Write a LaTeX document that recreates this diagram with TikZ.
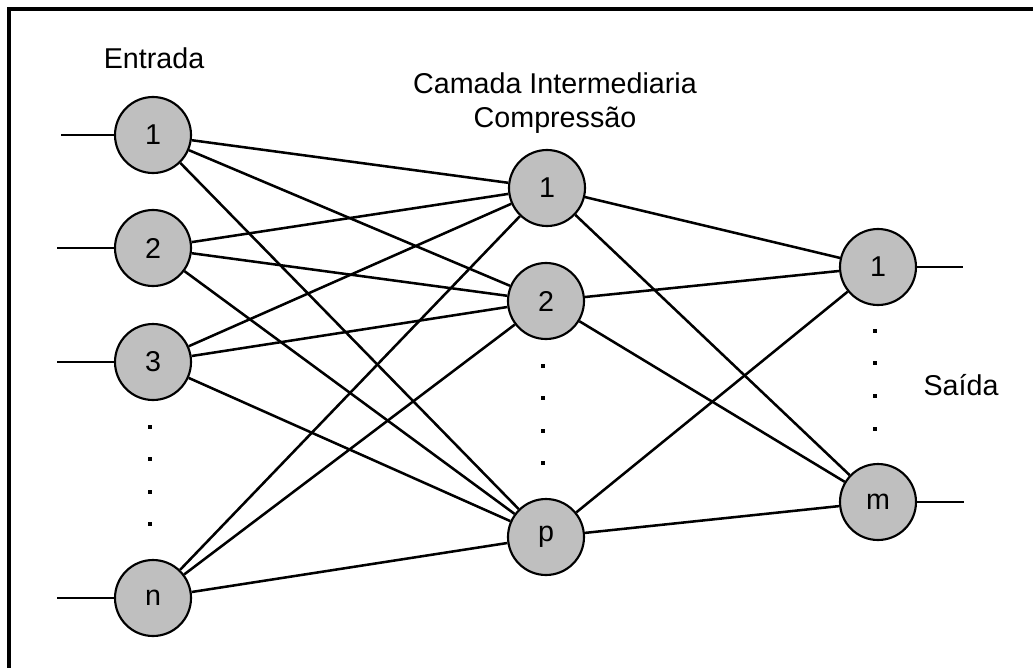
\documentclass[tikz,border=0pt]{standalone}
\usepackage{fontspec}
\setmainfont{Liberation Sans}
\usepackage{tikz}
\usetikzlibrary{positioning}

\tikzset{
  neuron/.style={circle, draw, line width=1.6pt, fill=black!25, minimum size=57pt, inner sep=0pt},
  link/.style={line width=1.9pt},
  label/.style={font=\fontsize{21.5}{26}\selectfont, align=center}
}

\begin{document}
\begin{tikzpicture}[x=0.75pt, y=-0.75pt, font=\fontsize{21.5}{26}\selectfont]
\useasboundingbox (0,0) rectangle (1033,668);

% Frame
\draw[line width=2.4pt] (9,668) -- (9,9) -- (1033,9);

% Input layer
\node[neuron] (e1) at (153,135) {1};
\node[neuron] (e2) at (153,248) {2};
\node[neuron] (e3) at (153,362) {3};
\node[neuron] (en) at (153,598) {n};

% Hidden layer
\node[neuron] (c1) at (547,188) {1};
\node[neuron] (c2) at (546,301) {2};
\node[neuron] (cp) at (546,537) {p};

% Output layer
\node[neuron] (s1) at (878,267) {1};
\node[neuron] (sm) at (878,502) {m};

% Labels
\node[label] (entrada) at (154,58) {Entrada};
\node[label] (camada) at (555,103) {Camada Intermediaria\\Compressão};
\node[label] (saida) at (961,385) {Saída};

% Inputs and outputs
\coordinate (xe1) at (61,135);
\coordinate (xe2) at (57,248);
\coordinate (xe3) at (57,362);
\coordinate (xen) at (57,598);
\coordinate (ys1) at (963,267);
\coordinate (ysm) at (964,502);
\foreach \a in {e1,e2,e3,en}
  \draw[link] (x\a) -- (\a);
\foreach \a in {s1,sm}
  \draw[link] (\a) -- (y\a);

% Connections
\foreach \a in {e1,e2,e3,en}
  \foreach \b in {c1,c2,cp}
    \draw[link] (\a) -- (\b);
\foreach \a in {c1,c2,cp}
  \foreach \b in {s1,sm}
    \draw[link] (\a) -- (\b);

% Dots
\foreach \y in {427,459,492,524}
  \fill (148,\y-2) rectangle (152,\y+2);
\foreach \y in {366,398,431,463}
  \fill (541,\y-2) rectangle (545,\y+2);
\foreach \y in {331,363,396,429}
  \fill (873,\y-2) rectangle (877,\y+2);
\end{tikzpicture}
\end{document}
